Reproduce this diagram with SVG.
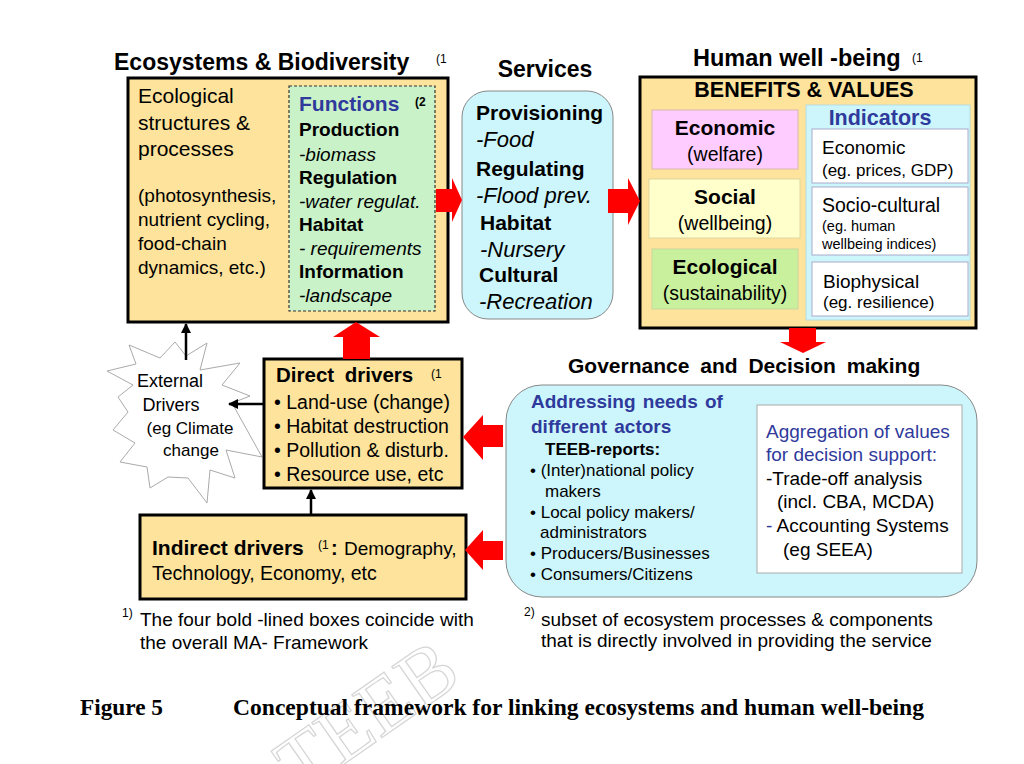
<svg xmlns="http://www.w3.org/2000/svg" width="1024" height="764" viewBox="0 0 1024 764">
<style>
text{font-family:"Liberation Sans",Arial,sans-serif;fill:#000}
.b{font-weight:bold}
.i{font-style:italic}
.blue{fill:#2f3a9c}
.bold-box{fill:#fde39b;stroke:#000;stroke-width:3}
.cyan{fill:#ccf6fb;stroke:#888;stroke-width:1}
.red{fill:#ff0000}
.thin{stroke:#000;stroke-width:2.5;fill:none}
.sup{font-size:12px}
.serif{font-family:"Liberation Serif","Times New Roman",serif;font-weight:bold}
.wm{font-family:"Liberation Serif","Times New Roman",serif;fill:none;stroke:#d6d6d6;stroke-width:1.3}
</style>
<defs>
<marker id="ah" viewBox="0 0 10 10" refX="9" refY="5" markerWidth="4" markerHeight="4" orient="auto"><path d="M0,0 L10,5 L0,10 z" fill="#000"/></marker>
</defs>
<rect width="1024" height="764" fill="#fff"/>

<!-- watermark -->
<text class="wm" x="300" y="795" font-size="80" transform="rotate(-35 300 795)">TEEB</text>

<g id="ecosystems">
<text x="114" y="70" class="b" font-size="23">Ecosystems &amp; Biodiversity</text>
<text x="436" y="63" font-size="12">(1</text>
<rect class="bold-box" x="128" y="78" width="320" height="244"/>
<g font-size="21">
<text x="138" y="103">Ecological</text>
<text x="138" y="130">structures &amp;</text>
<text x="138" y="156">processes</text>
</g>
<g font-size="19">
<text x="138" y="202">(photosynthesis,</text>
<text x="138" y="226">nutrient cycling,</text>
<text x="138" y="250">food-chain</text>
<text x="138" y="274">dynamics, etc.)</text>
</g>
</g>

<g id="functions">
<rect x="289" y="86" width="146" height="225" fill="#c9f2c9" stroke="#333" stroke-width="1.2" stroke-dasharray="3,2"/>
<text x="299" y="111" class="b blue" font-size="21">Functions</text>
<text x="415" y="106" class="b" font-size="12">(2</text>
<g font-size="19">
<text x="299" y="136" class="b">Production</text>
<text x="299" y="161" class="i">-biomass</text>
<text x="299" y="184" class="b">Regulation</text>
<text x="299" y="208" class="i">-water regulat.</text>
<text x="299" y="231" class="b">Habitat</text>
<text x="299" y="255" class="i">- requirements</text>
<text x="299" y="278" class="b">Information</text>
<text x="299" y="302" class="i">-landscape</text>
</g>
</g>

<g id="services">
<text x="545" y="77" class="b" font-size="23" text-anchor="middle">Services</text>
<rect class="cyan" x="462" y="91" width="151" height="228" rx="26"/>
<g font-size="21">
<text x="476" y="120" class="b">Provisioning</text>
<text x="476" y="147" class="i" font-size="22">-Food</text>
<text x="476" y="176" class="b">Regulating</text>
<text x="476" y="203" class="i" font-size="22">-Flood prev.</text>
<text x="480" y="230" class="b">Habitat</text>
<text x="480" y="257" class="i" font-size="22">-Nursery</text>
<text x="479" y="282" class="b">Cultural</text>
<text x="479" y="309" class="i" font-size="22">-Recreation</text>
</g>
</g>

<g id="human-wellbeing">
<text x="693" y="66" class="b" font-size="23.5">Human well -being</text>
<text x="912" y="62" font-size="12">(1</text>
<rect class="bold-box" x="640" y="77" width="336" height="251"/>
<text x="804" y="97" class="b" font-size="21.5" text-anchor="middle">BENEFITS &amp; VALUES</text>
<rect x="652" y="110" width="146" height="59" fill="#ffccff" stroke="#d8b8b0" stroke-width="1"/>
<text x="725" y="135" class="b" font-size="21" text-anchor="middle">Economic</text>
<text x="725" y="161" font-size="19.5" text-anchor="middle">(welfare)</text>
<rect x="649" y="179" width="151" height="59" fill="#ffffcc" stroke="#e0d6a0" stroke-width="1"/>
<text x="725" y="204" class="b" font-size="21" text-anchor="middle">Social</text>
<text x="725" y="230" font-size="19.5" text-anchor="middle">(wellbeing)</text>
<rect x="652" y="249" width="146" height="60" fill="#c9f09c" stroke="#c8d8a0" stroke-width="1"/>
<text x="725" y="274" class="b" font-size="21" text-anchor="middle">Ecological</text>
<text x="725" y="300" font-size="19.5" text-anchor="middle">(sustainability)</text>
</g>

<g id="indicators">
<rect x="806" y="105" width="164" height="215" fill="#ccf6fb" stroke="#b8dde0" stroke-width="1"/>
<text x="880" y="125" class="b blue" font-size="21.5" text-anchor="middle">Indicators</text>
<rect x="812" y="129" width="156" height="54" fill="#fff" stroke="#aac" stroke-width="1"/>
<text x="822" y="154" font-size="19">Economic</text>
<text x="822" y="176" font-size="17">(eg. prices, GDP)</text>
<rect x="812" y="187" width="156" height="68" fill="#fff" stroke="#aac" stroke-width="1"/>
<text x="822" y="212" font-size="19.5">Socio-cultural</text>
<text x="822" y="231" font-size="14.5">(eg. human</text>
<text x="822" y="249" font-size="14.5">wellbeing indices)</text>
<rect x="812" y="262" width="156" height="54" fill="#fff" stroke="#aac" stroke-width="1"/>
<text x="823" y="288" font-size="19">Biophysical</text>
<text x="823" y="308" font-size="17">(eg. resilience)</text>
</g>

<g id="governance">
<text x="568" y="373" class="b" font-size="21" word-spacing="5">Governance and Decision making</text>
<rect class="cyan" x="506" y="385" width="471" height="212" rx="36"/>
<text x="531" y="408" class="b blue" font-size="19" word-spacing="2">Addressing needs of</text>
<text x="531" y="433" class="b blue" font-size="19" word-spacing="2">different actors</text>
<text x="545" y="455" class="b" font-size="17">TEEB-reports:</text>
<g font-size="17">
<text x="530" y="476">• (Inter)national policy</text>
<text x="545" y="497">makers</text>
<text x="530" y="518">• Local policy makers/</text>
<text x="540" y="538">administrators</text>
<text x="530" y="559">• Producers/Businesses</text>
<text x="530" y="580">• Consumers/Citizens</text>
</g>
<rect x="757" y="405" width="205" height="168" fill="#fff" stroke="#aaa" stroke-width="1"/>
<g font-size="19">
<text x="766" y="438" class="blue">Aggregation of values</text>
<text x="766" y="461" class="blue">for decision support:</text>
<text x="766" y="485">-Trade-off analysis</text>
<text x="777" y="508">(incl. CBA, MCDA)</text>
<text x="766" y="532"><tspan class="blue">- </tspan>Accounting Systems</text>
<text x="783" y="556">(eg SEEA)</text>
</g>
</g>

<g id="external-drivers">
<polygon points="107,371 136,364 129,345 160,358 175,342 186,356 207,343 200,370 240,363 222,385 250,396 232,403 262,457 226,450 235,478 210,470 207,503 188,478 168,477 150,488 147,467 120,462 135,443 113,430 128,412 118,397 133,385" fill="#fff" stroke="#aaa" stroke-width="1"/>
<g text-anchor="middle">
<text x="170" y="387" font-size="18">External</text>
<text x="171" y="411" font-size="18">Drivers</text>
<text x="190" y="434" font-size="17">(eg Climate</text>
<text x="191" y="456" font-size="17">change</text>
</g>
</g>

<g id="direct-drivers">
<rect class="bold-box" x="264" y="359" width="198" height="129"/>
<text x="276" y="382" class="b" font-size="20.5" word-spacing="5">Direct drivers</text>
<text x="431" y="378" font-size="12">(1</text>
<g font-size="19.5">
<text x="274" y="409">• Land-use (change)</text>
<text x="274" y="433">• Habitat destruction</text>
<text x="274" y="457">• Pollution &amp; disturb.</text>
<text x="274" y="481">• Resource  use, etc</text>
</g>
</g>

<g id="indirect-drivers">
<rect class="bold-box" x="140" y="515" width="326" height="84"/>
<text x="152" y="555" class="b" font-size="21">Indirect drivers</text>
<text x="318" y="549" font-size="12">(1</text>
<text x="331" y="555" class="b" font-size="20">:</text>
<text x="344" y="555" font-size="19">Demography,</text>
<text x="152" y="580" font-size="19.5">Technology, Economy, etc</text>
</g>

<g id="connectors">
<polygon class="red" points="436,189 452,189 452,178 462,200 452,222 452,212 436,212"/>
<polygon class="red" points="608,189 628,189 628,178 640,201 628,225 628,213 608,213"/>
<polygon class="red" points="789,328 816,328 816,342 826,342 803,353 780,342 789,342"/>
<polygon class="red" points="343,359 343,337 333,337 356,322 380,337 370,337 370,359"/>
<polygon class="red" points="503,425 483,425 483,415 463,437 483,460 483,447 503,447"/>
<polygon class="red" points="503,541 483,541 483,530 465,550 483,570 483,560 503,560"/>
<line class="thin" x1="264" y1="404" x2="229" y2="404" marker-end="url(#ah)"/>
<line class="thin" x1="186" y1="360" x2="186" y2="324" marker-end="url(#ah)"/>
<line class="thin" x1="311" y1="515" x2="311" y2="490" stroke-width="2" marker-end="url(#ah)"/>
</g>

<g id="footnotes">
<text x="122" y="617" class="sup">1)</text>
<text x="140" y="626" font-size="19">The four bold -lined boxes coincide with</text>
<text x="140" y="649" font-size="19">the overall MA- Framework</text>
<text x="524" y="616" class="sup">2)</text>
<text x="541" y="626" font-size="19">subset of ecosystem processes &amp; components</text>
<text x="541" y="647" font-size="19">that is directly involved in providing the service</text>
</g>

<g id="caption">
<text x="80" y="715" class="serif" font-size="23" textLength="83" lengthAdjust="spacingAndGlyphs">Figure 5</text>
<text x="233" y="715" class="serif" font-size="23" textLength="691" lengthAdjust="spacingAndGlyphs">Conceptual framework for linking ecosystems and human well-being</text>
</g>
</svg>
